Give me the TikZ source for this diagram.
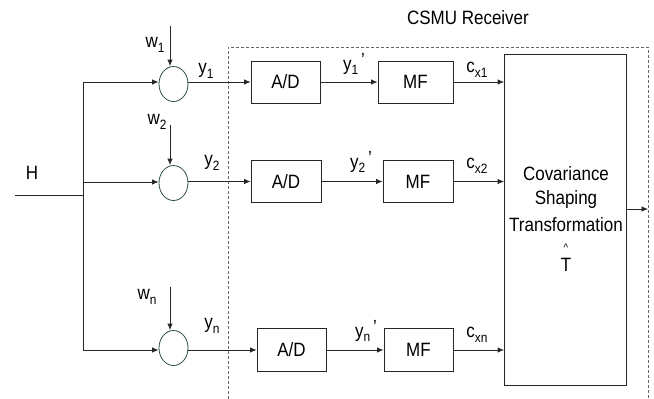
\documentclass[tikz,border=0pt]{standalone}
\usepackage{fontspec}
\setmainfont[FakeStretch=0.88]{Liberation Sans}
\usetikzlibrary{arrows.meta,shapes.geometric}
\newcommand{\sbs}[1]{\raisebox{-0.45ex}{\fontsize{13.5}{13.5}\selectfont #1}}
\newcommand{\prm}{\hspace{3pt}\raisebox{0.35ex}{\fontsize{19}{19}\selectfont ’}}
\definecolor{circ}{RGB}{45,75,75}
\tikzset{
  every node/.style={font=\fontsize{19.3}{22}\selectfont, text=black},
  blk/.style={draw=black!85, line width=0.8pt, rectangle, inner sep=0pt},
  sumc/.style={draw=circ, line width=0.8pt, ellipse, minimum width=29pt, minimum height=35pt, inner sep=0pt},
  wire/.style={draw=black!85, line width=0.8pt},
  arr/.style={wire, -{Latex[length=6.5pt,width=5.5pt]}},
  lbl/.style={inner sep=0pt, anchor=center}
}
\begin{document}
\begin{tikzpicture}[x=1pt,y=-1pt]
\useasboundingbox (0,0) rectangle (654,399);

% dashed receiver frame
\draw[draw=black!60, line width=0.7pt, dash pattern=on 3pt off 2pt] (228,399) -- (228,47) -- (648,47) -- (648,399);
\node[lbl] (title) at (468,18) {CSMU Receiver};

% input H and trunk
\coordinate (hin) at (15,195);
\coordinate (jh) at (83,195);
\coordinate (j1) at (83,82);
\coordinate (j2) at (83,182);
\coordinate (j3) at (83,350);
\node[lbl] (H) at (32,173) {H};
\draw[wire] (hin) -- (jh);
\draw[wire] (j1) -- (j3);

% summing nodes
\node[sumc] (s1) at (173.5,84) {};
\node[sumc] (s2) at (173.5,183) {};
\node[sumc] (s3) at (173.5,348) {};

\draw[arr] (j1) -- (s1.west |- j1);
\draw[arr] (j2) -- (s2.west |- j2);
\draw[arr] (j3) -- (s3.west |- j3);

% noise inputs
\coordinate (w1s) at (170,26);
\coordinate (w2s) at (170,125);
\coordinate (w3s) at (170,287);
\draw[arr] (w1s) -- (w1s |- s1.north);
\draw[arr] (w2s) -- (w2s |- s2.north);
\draw[arr] (w3s) -- (w3s |- s3.north);
\node[lbl] (w1) at (155,45) {w\sbs{1}};
\node[lbl] (w2) at (157,122) {w\sbs{2}};
\node[lbl] (wn) at (147,297) {w\sbs{n}};

% A/D boxes
\node[blk, minimum width=69pt, minimum height=42pt] (ad1) at (285.5,82) {A/D};
\node[blk, minimum width=70pt, minimum height=42pt] (ad2) at (286,181.5) {A/D};
\node[blk, minimum width=69pt, minimum height=43pt] (ad3) at (291.5,350) {A/D};

% MF boxes
\node[blk, minimum width=75pt, minimum height=42pt] (mf1) at (415.5,82) {MF};
\node[blk, minimum width=70pt, minimum height=42pt] (mf2) at (418,181.5) {MF};
\node[blk, minimum width=69pt, minimum height=43pt] (mf3) at (418.5,350) {MF};

% covariance shaping box
\node[blk, minimum width=122pt, minimum height=331pt] (cst) at (565.5,219.5) {};
\node[lbl] (t1) at (566,174) {Covariance};
\node[lbl] (t2) at (566,200) {Shaping};
\node[lbl] (t3) at (566,225) {Transformation};
\node[lbl, font=\fontsize{11}{11}\selectfont] (t4) at (566,248) {\^{}};
\node[lbl] (t5) at (566,265) {T};

% output
\coordinate (out) at (648,209);
\draw[arr] (cst.east |- out) -- (out);

% row connectors
\draw[arr] (s1.east |- ad1) -- (ad1);
\draw[arr] (s2.east |- ad2) -- (ad2);
\draw[arr] (s3.east |- ad3) -- (ad3);
\draw[arr] (ad1) -- (mf1);
\draw[arr] (ad2) -- (mf2);
\draw[arr] (ad3) -- (mf3);
\draw[arr] (mf1) -- (mf1 -| cst.west);
\draw[arr] (mf2) -- (mf2 -| cst.west);
\draw[arr] (mf3) -- (mf3 -| cst.west);

% signal labels
\node[lbl] (y1) at (206,71) {y\sbs{1}};
\node[lbl] (y2) at (212,163) {y\sbs{2}};
\node[lbl] (yn) at (212,326) {y\sbs{n}};
\node[lbl] (y1p) at (354,64) {y\sbs{1}\prm};
\node[lbl] (y2p) at (361,162) {y\sbs{2}\prm};
\node[lbl] (ynp) at (366,331) {y\sbs{n}\prm};
\node[lbl] (c1) at (477,70) {c\sbs{x1}};
\node[lbl] (c2) at (477,166) {c\sbs{x2}};
\node[lbl] (cn) at (477,335) {c\sbs{xn}};
\end{tikzpicture}
\end{document}
